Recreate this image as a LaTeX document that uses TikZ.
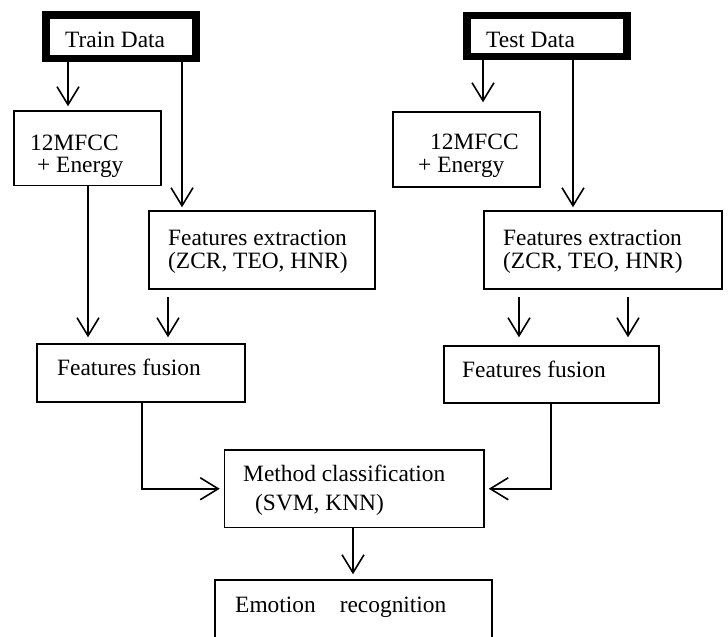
\documentclass[tikz,border=0pt]{standalone}
\usepackage{fontspec}
\setmainfont{Liberation Serif}
\usetikzlibrary{arrows.meta}
\tikzset{
	blk/.style={draw, line width=1.5pt, inner sep=0pt},
	datablk/.style={draw, line width=7.5pt, inner sep=0pt},
	lbl/.style={anchor=base west, inner sep=0pt},
	arr/.style={line width=1.6pt, -{Straight Barb[length=18pt,width=22pt,line width=1.6pt]}}
}
\begin{document}
\begin{tikzpicture}[x=1pt,y=-1pt,font=\fontsize{23.4}{24}\selectfont]
	\useasboundingbox (0,0) rectangle (728,637);
	
	% boxes
	\node[datablk, minimum width=150pt, minimum height=43.5pt] (train) at (121,36.75) {};
	\node[datablk, minimum width=160pt, minimum height=41pt] (test) at (547,36) {};
	\node[blk, minimum width=147pt, minimum height=74.5pt] (mfccL) at (87.5,148.25) {};
	\node[blk, minimum width=147pt, minimum height=75pt] (mfccR) at (466.5,149.5) {};
	\node[blk, minimum width=226pt, minimum height=78pt] (featL) at (262,250) {};
	\node[blk, minimum width=238pt, minimum height=78pt] (featR) at (603,250) {};
	\node[blk, minimum width=208pt, minimum height=58pt] (fusL) at (141,373) {};
	\node[blk, minimum width=215pt, minimum height=57pt] (fusR) at (551.5,374.5) {};
	\node[blk, minimum width=259.5pt, minimum height=77.5pt] (method) at (354.25,488.75) {};
	\node[blk, minimum width=277pt, minimum height=100pt] (emotion) at (353.5,630) {};
	
	% texts
	\node[lbl] (trainlbl) at (65,47) {Train Data};
	\node[lbl] (testlbl) at (486,47) {Test Data};
	\node[lbl] (mfccLa) at (30,150) {12MFCC};
	\node[lbl] (mfccLb) at (37,172) {+ Energy};
	\node[lbl] (mfccRa) at (430,149) {12MFCC};
	\node[lbl] (mfccRb) at (418,172) {+ Energy};
	\node[lbl] (featLa) at (168,245) {Features extraction};
	\node[lbl] (featLb) at (168,268) {(ZCR, TEO, HNR)};
	\node[lbl] (featRa) at (503,245) {Features extraction};
	\node[lbl] (featRb) at (503,268) {(ZCR, TEO, HNR)};
	\node[lbl] (fusLlbl) at (57,375) {Features fusion};
	\node[lbl] (fusRlbl) at (462,377) {Features fusion};
	\node[lbl] (methoda) at (243,481) {Method classification};
	\node[lbl] (methodb) at (255,510) {(SVM, KNN)};
	\node[lbl] (emolbl) at (235,612) {Emotion\hspace{24pt}recognition};
	
	% arrows
	\draw[arr, shorten >=4pt] (68,0 |- train.south) -- (68,0 |- mfccL.north);
	\draw[arr, shorten >=3pt] (182,0 |- train.south) -- (182,0 |- featL.north);
	\draw[arr, shorten >=6pt] (88,0 |- mfccL.south) -- (88,0 |- fusL.north);
	\draw[arr, shorten <=7pt, shorten >=6pt] (168,0 |- featL.south) -- (168,0 |- fusL.north);
	\draw[arr, shorten >=9pt] (483,0 |- test.south) -- (483,0 |- mfccR.north);
	\draw[arr, shorten >=3pt] (573,0 |- test.south) -- (573,0 |- featR.north);
	\draw[arr, shorten <=7pt, shorten >=8pt] (519,0 |- featR.south) -- (519,0 |- fusR.north);
	\draw[arr, shorten <=7pt, shorten >=8pt] (628,0 |- featR.south) -- (628,0 |- fusR.north);
	\draw[arr, shorten >=4pt] (142,0 |- fusL.south) |- (method.west);
	\draw[arr, shorten >=4pt] (551,0 |- fusR.south) |- (method.east);
	\draw[arr, shorten >=5pt] (method.south -| 353,0) -- (emotion.north -| 353,0);
	 
\end{tikzpicture}
\end{document}
